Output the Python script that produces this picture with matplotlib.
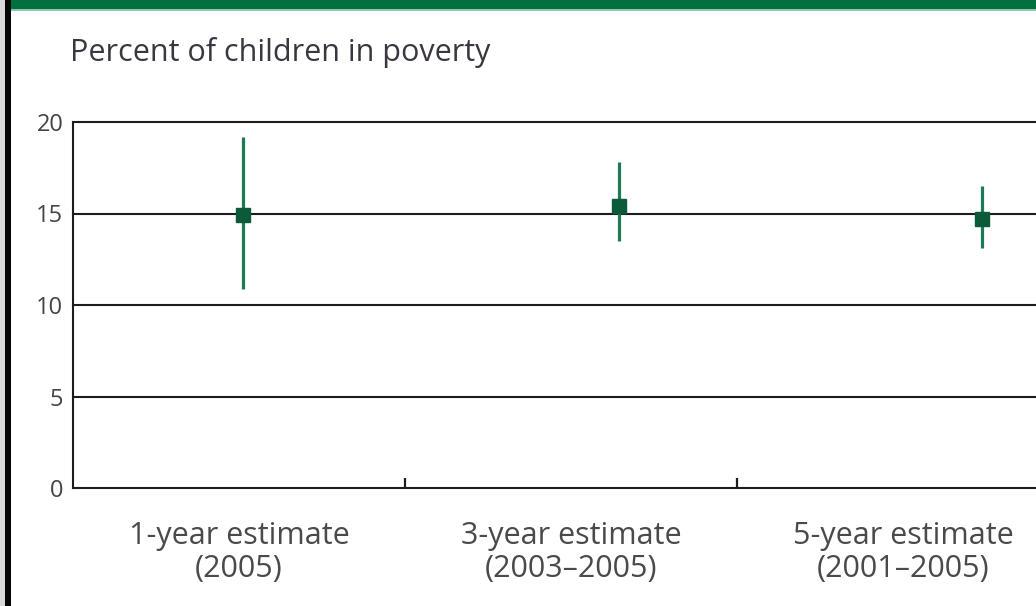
import numpy as np
import matplotlib
matplotlib.use("Agg")
import matplotlib.pyplot as plt
from matplotlib.patches import Rectangle

# Estimates of the percent of children in poverty, with their confidence ranges
categories = ["1-year estimate\n(2005)", "3-year estimate\n(2003\u20132005)", "5-year estimate\n(2001\u20132005)"]
estimates = [14.9, 15.4, 14.7]
lower = [10.9, 13.5, 13.1]
upper = [19.2, 17.8, 16.5]
y_ticks = [0, 5, 10, 15, 20]

W, H, DPI = 1036, 606, 100
fig = plt.figure(figsize=(W / DPI, H / DPI), dpi=DPI)
fig.patch.set_facecolor("white")

def px_x(x):
    return x / W

def px_y(y):
    return 1 - y / H

# frame decorations: green header band and black left rule
fig.patches.append(Rectangle((0, px_y(9)), 1, 9 / H, transform=fig.transFigure,
                             facecolor="#00703f", edgecolor="none", zorder=0))
fig.patches.append(Rectangle((0, px_y(10.5)), 1, 1.5 / H, transform=fig.transFigure,
                             facecolor="#8fc9ad", edgecolor="none", zorder=0))
fig.patches.append(Rectangle((0, 0), 5 / W, 1, transform=fig.transFigure,
                             facecolor="#d8d8d8", edgecolor="none", zorder=1))
fig.patches.append(Rectangle((5 / W, 0), 6 / W, 1, transform=fig.transFigure,
                             facecolor="#050505", edgecolor="none", zorder=1))

left, right, top, bottom = 73, 1040, 122, 488
ax = fig.add_axes([px_x(left), px_y(bottom), (right - left) / W, (bottom - top) / H])
ax.set_facecolor("white")

bin_px = 332.0
ax.set_xlim(0, (right - left) / bin_px)
ax.set_ylim(0, 20)

line_col = "#1c1c1c"
for v in y_ticks[1:]:
    ax.axhline(v, color=line_col, lw=1.5, zorder=1, clip_on=False)

for s in ["top", "right"]:
    ax.spines[s].set_visible(False)
for s in ["left", "bottom"]:
    ax.spines[s].set_color(line_col)
    ax.spines[s].set_linewidth(1.5)

ax.set_yticks(y_ticks)
ax.set_yticklabels([str(v) for v in y_ticks])
ax.tick_params(axis="y", length=0, pad=7, labelsize=17, labelcolor="#444444")
for lab in ax.get_yticklabels():
    lab.set_family("Open Sans")

ax.set_xticks([1, 2])
ax.set_xticklabels([])
ax.tick_params(axis="x", direction="in", length=7, width=1.6, color=line_col)

# markers sit slightly right of each category's centre
offsets = [0.512, 0.645, 0.738]
xs = np.arange(len(categories)) + np.array(offsets)
est = np.array(estimates)
err = np.vstack([est - np.array(lower), np.array(upper) - est])
ax.errorbar(xs, est, yerr=err, fmt="none", ecolor="#1d7a56", elinewidth=2.3,
            capsize=0, zorder=3)
ax.plot(xs, est, ls="none", marker="s", ms=9.5, color="#0b5b3b",
        markeredgecolor="#0b5b3b", zorder=4)

# category labels centred in each bin
for i, c in enumerate(categories):
    ax.text(i + 0.5, -33 / (bottom - top), c, transform=ax.get_xaxis_transform(),
            ha="center", va="top", fontsize=22,
            color="#4a4a4a", family="Open Sans", linespacing=1.15)

fig.text(px_x(70), px_y(53), "Percent of children in poverty", ha="left",
         va="center", fontsize=22, color="#3b3640", family="Open Sans")

fig.savefig("out.png", dpi=DPI)
